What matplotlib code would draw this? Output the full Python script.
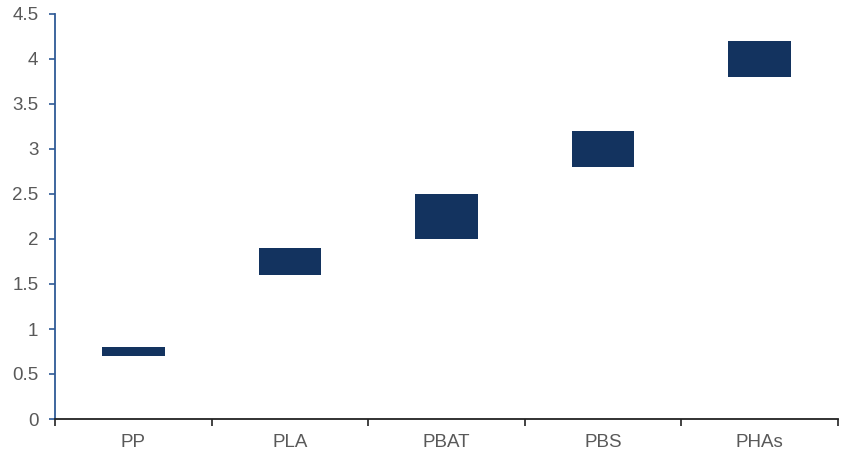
import matplotlib
matplotlib.use("Agg")
import matplotlib.pyplot as plt
import numpy as np

plt.rcParams['font.family'] = ['Liberation Sans', 'DejaVu Sans']

materials = ["PP", "PLA", "PBAT", "PBS", "PHAs"]
low = [0.7, 1.6, 2.0, 2.8, 3.8]
high = [0.8, 1.9, 2.5, 3.2, 4.2]
y_ticks = [0, 0.5, 1, 1.5, 2, 2.5, 3, 3.5, 4, 4.5]
y_labels = ["0", "0.5", "1", "1.5", "2", "2.5", "3", "3.5", "4", "4.5"]

fig = plt.figure(figsize=(8.42, 4.53), dpi=100)
ax = fig.add_axes([55 / 842, 1 - 419 / 453, 783 / 842, 405 / 453])

x = np.arange(len(materials))
heights = np.array(high) - np.array(low)
ax.bar(x, heights, bottom=low, width=0.4, color="#13335F", zorder=3)

ax.set_xlim(-0.5, len(materials) - 0.5)
ax.set_ylim(0, 4.5)
ax.set_yticks(y_ticks)
ax.set_yticklabels(y_labels)

ax.set_xticks(x)
ax.set_xticklabels(materials)
ax.set_xticks(np.arange(len(materials) + 1) - 0.5, minor=True)
ax.tick_params(axis="x", which="major", length=0, pad=11, labelsize=13.5, labelcolor="#595959")
ax.tick_params(axis="x", which="minor", length=5, width=1.2, color="#222222", direction="out")
ax.tick_params(axis="y", length=4, width=1.2, color="#2F5A96", labelsize=13.5, labelcolor="#595959", pad=8)

for side in ("top", "right"):
    ax.spines[side].set_visible(False)
ax.spines["left"].set_color("#2F5A96")
ax.spines["left"].set_linewidth(1.3)
ax.spines["bottom"].set_color("#222222")
ax.spines["bottom"].set_linewidth(1.3)

fig.savefig("out.png", dpi=100)
